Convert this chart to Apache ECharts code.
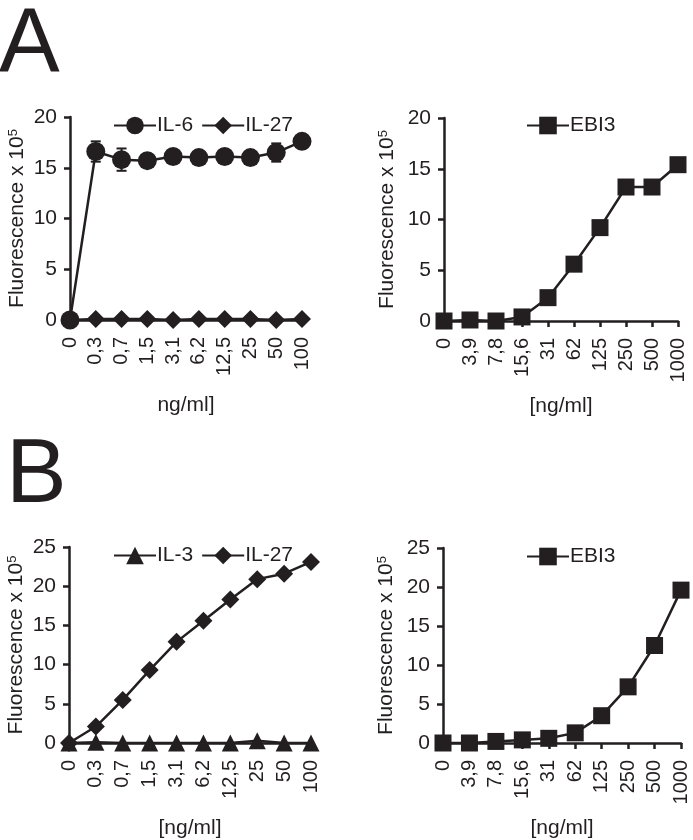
<!DOCTYPE html>
<html><head><meta charset="utf-8">
<script src="https://cdn.jsdelivr.net/npm/echarts@6/dist/echarts.min.js"></script>
<style>html,body{margin:0;padding:0;background:#fff}#c{width:693px;height:840px}</style>
</head><body><div id="c"></div><script>
// ---- data ----
const catIL = ['0','0,3','0,7','1,5','3,1','6,2','12,5','25','50','100'];
const catEBI = ['0','3,9','7,8','15,6','31','62','125','250','500','1000'];
const il6A = [0, 16.6, 15.8, 15.7, 16.1, 16.0, 16.1, 16.0, 16.5, 17.6];
const il6AErr = [0, 1.0, 1.1, 0.3, 0.3, 0.2, 0.2, 0.3, 0.9, 0.3];
const il27A = [0, 0.1, 0.1, 0.1, 0, 0.1, 0.1, 0.1, 0, 0.1];
const ebi3A = [0, 0.1, 0, 0.4, 2.3, 5.6, 9.2, 13.2, 13.2, 15.4];
const il3B = [0, 0.1, 0, 0, 0, 0, 0, 0.3, 0, 0];
const il27B = [0, 2.1, 5.5, 9.3, 12.9, 15.6, 18.3, 20.9, 21.6, 23.1];
const ebi3B = [0, 0, 0.2, 0.4, 0.6, 1.3, 3.5, 7.2, 12.5, 19.6];
const yTicksA = {min: 0, max: 20, interval: 5};
const yTicksB = {min: 0, max: 25, interval: 5};

const C = '#231f20';
const FONT = 'Liberation Sans';
const chart = echarts.init(document.getElementById('c'), null, {renderer: 'canvas'});

const grids = [
  {left: 70, top: 117, width: 232, height: 203},
  {left: 444, top: 118, width: 234, height: 203},
  {left: 69, top: 547, width: 242, height: 197},
  {left: 443, top: 548, width: 238, height: 197}
];
const xCats = [catIL, catEBI, catIL, catEBI];
const xNames = ['ng/ml]', '[ng/ml]', '[ng/ml]', '[ng/ml]'];
const yRanges = [yTicksA, yTicksA, yTicksB, yTicksB];

const xAxes = grids.map((g, i) => ({
  type: 'category', gridIndex: i, data: xCats[i], boundaryGap: false,
  name: xNames[i], nameLocation: 'middle', nameGap: 75,
  nameTextStyle: {fontFamily: FONT, fontSize: 21, color: C},
  axisLine: {lineStyle: {color: C, width: 2.5}},
  axisTick: {show: true, interval: 0, length: 6, lineStyle: {color: C, width: 2.5}},
  axisLabel: {interval: 0, rotate: 90, margin: 17, fontFamily: FONT, fontSize: 20, color: C},
  splitLine: {show: false}
}));
const yAxes = grids.map((g, i) => ({
  type: 'value', gridIndex: i, min: yRanges[i].min, max: yRanges[i].max, interval: yRanges[i].interval,
  name: 'Fluorescence x 10{sup|5}', nameLocation: 'middle', nameGap: i % 2 === 0 ? 42 : 46,
  nameTextStyle: {fontFamily: FONT, fontSize: 21, color: C,
    rich: {sup: {fontFamily: FONT, fontSize: 13, color: C, verticalAlign: 'top'}}},
  axisLine: {show: true, lineStyle: {color: C, width: 2.5}},
  axisTick: {show: true, length: 6, lineStyle: {color: C, width: 2.5}},
  axisLabel: {margin: 13, fontFamily: FONT, fontSize: 21, color: C},
  splitLine: {show: false}
}));

function line(name, data, idx, symbol, size) {
  return {
    name, type: 'line', xAxisIndex: idx, yAxisIndex: idx, data,
    symbol, symbolSize: size, showAllSymbol: true,
    itemStyle: {color: C, opacity: 1}, lineStyle: {color: C, width: 2.5},
    emphasis: {disabled: true}, animation: false, z: 3
  };
}

const errSeries = {
  type: 'custom', xAxisIndex: 0, yAxisIndex: 0, z: 1, animation: false,
  data: il6A.map((v, i) => [i, v, il6AErr[i]]),
  renderItem: (params, api) => {
    const x = api.value(0), y = api.value(1), e = api.value(2);
    const hi = api.coord([x, y + e]), lo = api.coord([x, y - e]);
    const w = 5;
    const st = {stroke: C, lineWidth: 2};
    return {type: 'group', children: [
      {type: 'line', shape: {x1: hi[0], y1: hi[1], x2: lo[0], y2: lo[1]}, style: st},
      {type: 'line', shape: {x1: lo[0] - w, y1: lo[1], x2: lo[0] + w, y2: lo[1]}, style: st},
      {type: 'line', shape: {x1: hi[0] - w, y1: hi[1], x2: hi[0] + w, y2: hi[1]}, style: st}
    ]};
  }
};

const legendBase = {
  itemWidth: 42, itemHeight: 22, itemGap: 8, orient: 'horizontal',
  textStyle: {fontFamily: FONT, fontSize: 21, color: C, padding: [0, 0, 0, -4]},
  selectedMode: false
};

chart.setOption({
  animation: false,
  backgroundColor: '#fff',
  grid: grids,
  xAxis: xAxes,
  yAxis: yAxes,
  legend: [
    Object.assign({}, legendBase, {data: ['IL-6', 'IL-27'], left: 108, top: 110}),
    Object.assign({}, legendBase, {data: ['EBI3'], left: 521, top: 110}),
    Object.assign({}, legendBase, {data: ['IL-3', 'IL-27 '], left: 108, top: 540}),
    Object.assign({}, legendBase, {data: ['EBI3 '], left: 521, top: 541})
  ],
  series: [
    errSeries,
    line('IL-6', il6A, 0, 'circle', 19),
    line('IL-27', il27A, 0, 'diamond', 18),
    line('EBI3', ebi3A, 1, 'rect', 17),
    line('IL-3', il3B, 2, 'triangle', 17),
    line('IL-27 ', il27B, 2, 'diamond', 18),
    line('EBI3 ', ebi3B, 3, 'rect', 17)
  ],
  graphic: [
    {type: 'text', left: -1, top: 0, style: {text: 'A', fontFamily: FONT, fontSize: 91, fill: C}},
    {type: 'text', left: 6, top: 431, style: {text: 'B', fontFamily: FONT, fontSize: 91, fill: C}}
  ]
});
</script></body></html>
